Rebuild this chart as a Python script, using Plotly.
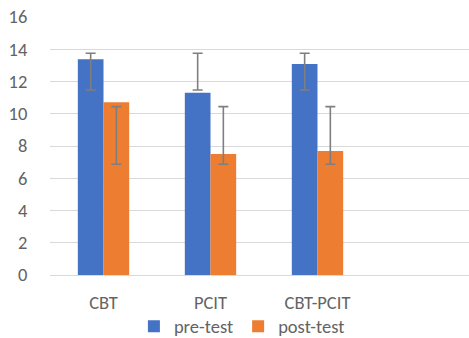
import plotly.graph_objects as go

categories = ["CBT", "PCIT", "CBT-PCIT", ""]
pre_test = [13.38, 11.31, 13.09, None]
post_test = [10.71, 7.50, 7.69, None]
pre_err_low = [11.47, 11.47, 11.47, None]
pre_err_high = [13.75, 13.75, 13.75, None]
post_err_low = [6.87, 6.87, 6.87, None]
post_err_high = [10.44, 10.44, 10.44, None]
y_ticks = [0, 2, 4, 6, 8, 10, 12, 14, 16]

BLUE = "#4472C4"
ORANGE = "#ED7D31"
TXT = "#636363"
GRID = "#D9D9D9"
ERR = "#7F7F7F"
FONT = "Calibri, Carlito, Lato, sans-serif"
FS = 18.5


def mid(lo, hi):
    return [None if a is None else (a + b) / 2 for a, b in zip(lo, hi)]


def half(lo, hi):
    return [0 if a is None else (b - a) / 2 for a, b in zip(lo, hi)]


fig = go.Figure()
fig.add_trace(go.Bar(name="pre-test", x=categories, y=pre_test, marker_color=BLUE,
                     marker_line_width=0, offsetgroup="pre"))
fig.add_trace(go.Bar(name="post-test", x=categories, y=post_test, marker_color=ORANGE,
                     marker_line_width=0, offsetgroup="post"))
# error ranges drawn on transparent bars sharing each series' slot
for lo, hi, grp in [(pre_err_low, pre_err_high, "pre"), (post_err_low, post_err_high, "post")]:
    fig.add_trace(go.Bar(x=categories, y=mid(lo, hi), offsetgroup=grp, showlegend=False,
                         marker_color="rgba(0,0,0,0)", marker_line_width=0, hoverinfo="skip",
                         error_y=dict(type="data", array=half(lo, hi), symmetric=True,
                                      color=ERR, thickness=1.6, width=5)))

fig.update_layout(
    width=469, height=338,
    margin=dict(l=50, r=0, t=17, b=63, autoexpand=False),
    paper_bgcolor="white", plot_bgcolor="white",
    barmode="group", bargap=0.52, bargroupgap=0,
    font=dict(family=FONT, size=FS, color=TXT),
    showlegend=True,
    legend=dict(orientation="h", xref="paper", yref="paper",
                x=0.458, xanchor="center", y=-0.2, yanchor="middle",
                font=dict(family=FONT, size=FS, color=TXT),
                traceorder="normal", itemwidth=30, bgcolor="rgba(0,0,0,0)"),
)
fig.update_xaxes(type="category", range=[-0.5, 3.416], showgrid=False, showline=False,
                 zeroline=False, ticks="outside", ticklen=11, tickcolor="rgba(0,0,0,0)",
                 automargin=False, tickfont=dict(family=FONT, size=FS, color=TXT))
fig.update_yaxes(range=[0, 16], tickvals=y_ticks, showgrid=True, gridcolor=GRID, gridwidth=1,
                 zeroline=True, zerolinecolor=GRID, zerolinewidth=1, showline=False,
                 ticks="outside", ticklen=18, tickcolor="rgba(0,0,0,0)",
                 automargin=False, tickfont=dict(family=FONT, size=FS, color=TXT))

fig.write_html("out.html", config={"displayModeBar": False},
               post_script="document.body.style.margin='0';")
